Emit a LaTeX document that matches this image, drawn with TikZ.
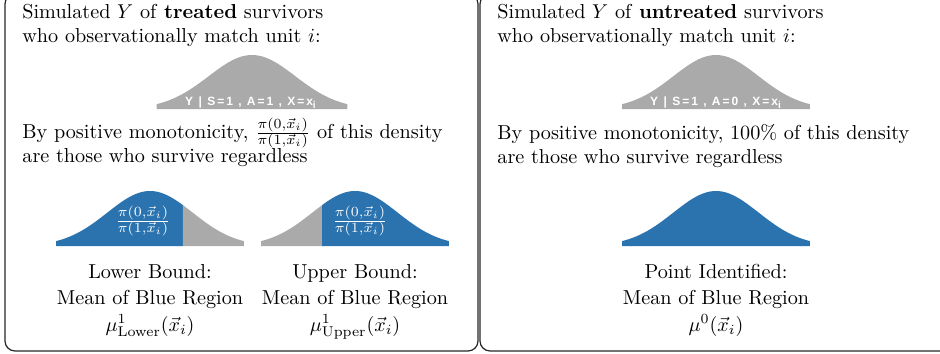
\documentclass[tikz,border=0pt]{standalone}
\usepackage{fontspec}
\usepackage{amsmath}
\newfontfamily\lblfont{Liberation Sans}
\definecolor{bblue}{HTML}{2B73AF}
\definecolor{bgray}{HTML}{AAAAAA}
\newcommand\gpart[7]{% cx, base, sigma, height, from, to, colour
  \fill[#7] ({#1+(#5)*#3},#2) -- plot[domain=#5:#6,samples=50,variable=\t] ({#1+\t*#3},{#2-#4*exp(-\t*\t/2)}) -- ({#1+(#6)*#3},#2) -- cycle;}
\begin{document}
\begin{tikzpicture}[x=0.5pt,y=-0.5pt,
  txt/.style={inner sep=0pt,font=\fontsize{10.1}{12}\selectfont},
  lbl/.style={inner sep=0pt,text=white,font=\lblfont\bfseries\fontsize{6}{6}\selectfont},
  frac/.style={inner sep=0pt,text=white,font=\fontsize{10.1}{12}\selectfont},
  panel/.style={draw=black!85,line width=0.6pt,rounded corners=5pt}]
\useasboundingbox (0,0) rectangle (940,353);
% panels
\draw[panel] (5,-6) rectangle (478,351);
\draw[panel] (480,-6) rectangle (950,351);
% ---------- left panel ----------
\node[txt,anchor=base west] (l1) at (22,19) {Simulated $Y$ of \textbf{treated} survivors};
\node[txt,anchor=base west] (l2) at (22,43) {who observationally match unit $i$:};
\gpart{252}{109}{43.4}{54}{-2.2}{2.2}{bgray}
\node[lbl,anchor=base] (lg) at (251,105) {Y \,|\, S\,=\,1 \,,\, A\,=\,1 \,,\, X\,=\,x\textsubscript{i}};
\node[txt,anchor=base west] (l3) at (22,138) {By positive monotonicity, $\frac{\pi(0,\vec{x}_i)}{\pi(1,\vec{x}_i)}$ of this density};
\node[txt,anchor=base west] (l4) at (22,162) {are those who survive regardless};
% lower bound curve
\gpart{150}{246}{42.7}{55}{-2.2}{0.77}{bblue}
\gpart{150}{246}{42.7}{55}{0.77}{2.2}{bgray}
\node[frac] (fl) at (143,221) {$\frac{\pi(0,\vec{x}_i)}{\pi(1,\vec{x}_i)}$};
% upper bound curve
\gpart{355}{246}{42.7}{55}{-2.2}{-0.77}{bgray}
\gpart{355}{246}{42.7}{55}{-0.77}{2.2}{bblue}
\node[frac] (fu) at (360,221) {$\frac{\pi(0,\vec{x}_i)}{\pi(1,\vec{x}_i)}$};
\node[txt,anchor=base] (lb1) at (150,278) {Lower Bound:};
\node[txt,anchor=base] (lb2) at (150,304) {Mean of Blue Region};
\node[txt,anchor=base] (lb3) at (150,331) {$\mu^1_{\text{Lower}}(\vec{x}_i)$};
\node[txt,anchor=base] (ub1) at (355,278) {Upper Bound:};
\node[txt,anchor=base] (ub2) at (355,304) {Mean of Blue Region};
\node[txt,anchor=base] (ub3) at (355,331) {$\mu^1_{\text{Upper}}(\vec{x}_i)$};
% ---------- right panel ----------
\node[txt,anchor=base west] (r1) at (497,19) {Simulated $Y$ of \textbf{untreated} survivors};
\node[txt,anchor=base west] (r2) at (497,43) {who observationally match unit $i$:};
\gpart{716}{109}{42.7}{54}{-2.2}{2.2}{bgray}
\node[lbl,anchor=base] (rg) at (716,105) {Y \,|\, S\,=\,1 \,,\, A\,=\,0 \,,\, X\,=\,x\textsubscript{i}};
\node[txt,anchor=base west] (r3) at (497,139) {By positive monotonicity, 100\% of this density};
\node[txt,anchor=base west] (r4) at (497,163) {are those who survive regardless};
\gpart{716}{246}{42.7}{55}{-2.2}{2.2}{bblue}
\node[txt,anchor=base] (p1) at (716,278) {Point Identified:};
\node[txt,anchor=base] (p2) at (716,304) {Mean of Blue Region};
\node[txt,anchor=base] (p3) at (716,331) {$\mu^0(\vec{x}_i)$};
\end{tikzpicture}
\end{document}
